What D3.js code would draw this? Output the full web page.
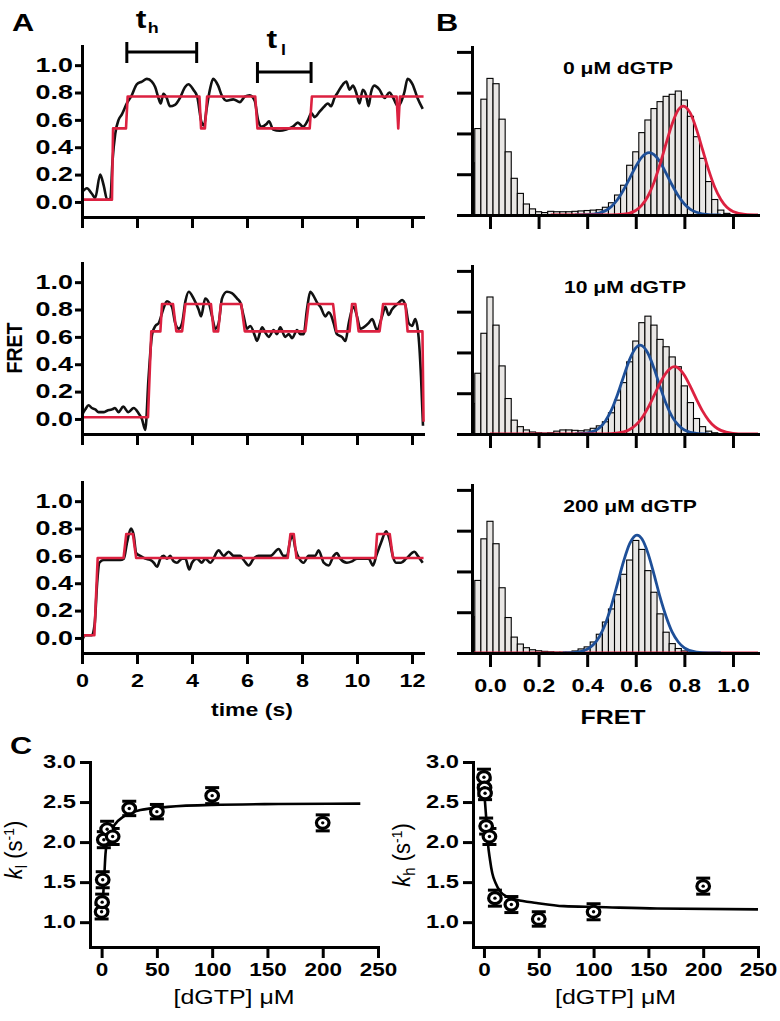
<!DOCTYPE html>
<html>
<head>
<meta charset="utf-8">
<script src="https://cdn.jsdelivr.net/npm/d3@7"></script>
<style>
  body { margin: 0; background: #fff; }
</style>
</head>
<body>
<svg id="fig" width="780" height="1021"></svg>
<script>
// ---------- panel A : FRET traces [time (s), FRET] ----------
var traceTop = [[0,0.07],[0.18,0.1],[0.36,0.06],[0.48,0.03],[0.66,0.2],[0.79,0.12],[0.91,0.02],[1.03,0.02],[1.11,0.3],[1.21,0.5],[1.33,0.6],[1.45,0.64],[1.63,0.72],[1.81,0.78],[1.99,0.86],[2.18,0.88],[2.36,0.9],[2.54,0.88],[2.66,0.84],[2.78,0.76],[2.86,0.72],[2.96,0.79],[3.08,0.76],[3.2,0.7],[3.38,0.71],[3.56,0.76],[3.75,0.84],[3.87,0.86],[4.05,0.82],[4.19,0.77],[4.35,0.58],[4.44,0.56],[4.53,0.68],[4.65,0.82],[4.77,0.9],[4.95,0.85],[5.08,0.78],[5.26,0.74],[5.5,0.75],[5.74,0.73],[5.92,0.77],[6.1,0.78],[6.28,0.74],[6.4,0.6],[6.53,0.55],[6.71,0.57],[6.8,0.59],[6.95,0.53],[7.19,0.52],[7.43,0.53],[7.67,0.55],[7.85,0.58],[8.04,0.55],[8.22,0.6],[8.34,0.65],[8.46,0.62],[8.64,0.66],[8.82,0.7],[8.94,0.72],[9.06,0.7],[9.18,0.76],[9.3,0.8],[9.49,0.86],[9.61,0.88],[9.73,0.82],[9.85,0.85],[9.97,0.8],[10.09,0.72],[10.21,0.82],[10.33,0.78],[10.42,0.7],[10.51,0.8],[10.63,0.85],[10.82,0.82],[11.0,0.76],[11.18,0.8],[11.32,0.76],[11.48,0.7],[11.6,0.73],[11.72,0.8],[11.84,0.9],[12.02,0.86],[12.2,0.76],[12.39,0.68]];
var fitTop = [[0,0.017],[1.09,0.017],[1.13,0.538],[1.6,0.538],[1.66,0.771],[4.27,0.771],[4.33,0.538],[4.47,0.538],[4.55,0.771],[6.3,0.771],[6.38,0.538],[8.28,0.538],[8.36,0.771],[11.44,0.771],[11.5,0.538],[11.56,0.771],[12.42,0.771]];

var traceMid = [[0,0.03],[0.12,0.07],[0.24,0.1],[0.36,0.08],[0.48,0.07],[0.6,0.05],[0.79,0.05],[0.91,0.06],[1.09,0.07],[1.2,0.08],[1.33,0.05],[1.5,0.09],[1.68,0.05],[1.88,0.08],[2.06,0.04],[2.18,0.0],[2.3,-0.08],[2.42,0.3],[2.55,0.62],[2.67,0.68],[2.79,0.7],[2.95,0.8],[3.09,0.86],[3.27,0.82],[3.39,0.7],[3.52,0.66],[3.64,0.7],[3.76,0.86],[3.88,0.93],[4.06,0.88],[4.24,0.8],[4.33,0.75],[4.48,0.88],[4.61,0.85],[4.73,0.75],[4.85,0.66],[4.97,0.7],[5.09,0.88],[5.27,0.93],[5.45,0.92],[5.64,0.88],[5.76,0.85],[5.88,0.75],[6.0,0.66],[6.12,0.68],[6.3,0.6],[6.36,0.57],[6.55,0.67],[6.67,0.63],[6.79,0.6],[6.97,0.65],[7.09,0.62],[7.21,0.67],[7.39,0.6],[7.52,0.62],[7.64,0.59],[7.82,0.65],[7.94,0.62],[8.06,0.62],[8.18,0.8],[8.3,0.93],[8.42,0.9],[8.55,0.85],[8.67,0.82],[8.85,0.75],[8.97,0.78],[9.09,0.74],[9.15,0.7],[9.27,0.62],[9.45,0.6],[9.58,0.57],[9.7,0.7],[9.88,0.82],[10.0,0.75],[10.12,0.66],[10.24,0.67],[10.42,0.7],[10.55,0.73],[10.73,0.65],[10.91,0.75],[11.03,0.82],[11.15,0.76],[11.27,0.8],[11.52,0.85],[11.64,0.87],[11.76,0.83],[11.88,0.7],[12.0,0.68],[12.12,0.73],[12.24,0.6],[12.33,0.3],[12.4,-0.05]];
var fitMid = [[0,0.012],[2.4,0.012],[2.52,0.64],[2.85,0.64],[2.91,0.84],[3.31,0.84],[3.43,0.64],[3.64,0.64],[3.76,0.84],[4.69,0.84],[4.79,0.64],[4.95,0.64],[5.05,0.84],[5.79,0.84],[5.92,0.64],[8.12,0.64],[8.24,0.84],[9.13,0.84],[9.25,0.64],[9.73,0.64],[9.82,0.84],[9.94,0.84],[10.06,0.64],[10.82,0.64],[10.95,0.84],[11.76,0.84],[11.84,0.64],[12.38,0.64],[12.42,-0.02]];

var traceBot = [[0,-0.02],[0.12,0.02],[0.36,0.02],[0.46,0.1],[0.55,0.4],[0.63,0.55],[0.79,0.57],[1.15,0.57],[1.39,0.57],[1.52,0.58],[1.64,0.7],[1.78,0.8],[1.88,0.75],[1.97,0.62],[2.12,0.6],[2.3,0.58],[2.48,0.57],[2.61,0.55],[2.73,0.52],[2.85,0.58],[2.97,0.6],[3.09,0.58],[3.21,0.6],[3.33,0.56],[3.45,0.55],[3.64,0.58],[3.76,0.58],[3.9,0.5],[4.0,0.55],[4.18,0.58],[4.36,0.55],[4.48,0.58],[4.67,0.55],[4.97,0.64],[5.15,0.6],[5.33,0.63],[5.52,0.6],[5.76,0.6],[5.88,0.57],[6.06,0.53],[6.24,0.58],[6.42,0.6],[6.67,0.6],[6.85,0.6],[7.15,0.65],[7.33,0.6],[7.45,0.6],[7.58,0.72],[7.66,0.75],[7.76,0.65],[7.9,0.58],[8.06,0.55],[8.24,0.6],[8.48,0.6],[8.6,0.64],[8.79,0.55],[8.97,0.53],[9.15,0.6],[9.27,0.62],[9.39,0.58],[9.63,0.55],[9.82,0.56],[10.0,0.58],[10.24,0.58],[10.42,0.58],[10.58,0.53],[10.7,0.6],[10.88,0.7],[11.06,0.78],[11.18,0.72],[11.3,0.6],[11.42,0.55],[11.6,0.55],[11.79,0.58],[12.09,0.63],[12.21,0.6],[12.39,0.55]];
var fitBot = [[0,0.0],[0.1,0.02],[0.45,0.02],[0.57,0.584],[1.51,0.584],[1.61,0.76],[1.85,0.76],[1.97,0.584],[7.48,0.584],[7.58,0.76],[7.7,0.76],[7.8,0.584],[10.67,0.584],[10.73,0.76],[11.19,0.76],[11.31,0.584],[12.42,0.584]];

// dwell-time brackets drawn above the top trace
var dwellMarks = [{sub: "h", t0: 1.63, t1: 4.17}, {sub: "l", t0: 6.38, t1: 8.33}];

// ---------- panel B : FRET histograms ----------
var fretBins = [-0.075,-0.05,-0.025,0,0.025,0.05,0.075,0.1,0.125,0.15,0.175,0.2,0.225,0.25,0.275,0.3,0.325,0.35,0.375,0.4,0.425,0.45,0.475,0.5,0.525,0.55,0.575,0.6,0.625,0.65,0.675,0.7,0.725,0.75,0.775,0.8,0.825,0.85,0.875,0.9,0.925,0.95,0.975,1.0];
var histTop = [128,212,284,335,322,235,155,90,53,27,15,8,6,9,8,8,8,9,10,11,12,13,19,30,49,73,122,155,202,233,261,278,291,296,304,282,242,192,139,82,38,12,4,1];
var histMid = [75,149,247,336,267,167,87,34,18,10,5,3,2,3,7,10,10,9,8,10,14,20,30,52,83,126,177,228,273,289,267,232,214,189,165,118,77,38,18,7,3,1,0,0];
var histBot = [89,178,280,323,268,160,87,39,22,13,8,5.5,4,3,2,2,2,5,10,15,27,46,76,108,143,193,228,276,254,202,149,96,51,23,11,5,2,1,0,0,0,0,0,0];

var blueTop = [[0.35,0.1],[0.4,0.7],[0.45,4.8],[0.5,21],[0.525,38],[0.55,62],[0.575,90],[0.6,119],[0.625,142],[0.655,153],[0.675,148],[0.7,130],[0.725,102],[0.75,73],[0.775,47],[0.8,27],[0.825,14],[0.85,6.7],[0.9,1.1],[0.95,0]];
var redTop = [[0.25,0],[0.5,0.2],[0.55,1.8],[0.6,11],[0.625,24],[0.65,46],[0.675,80],[0.7,125],[0.725,176],[0.75,224],[0.775,258],[0.796,267],[0.825,249],[0.85,210],[0.875,160],[0.9,110],[0.925,68],[0.95,38],[0.975,19],[1.0,8.7],[1.05,1.3],[1.103,0]];
var blueMid = [[0.35,0],[0.4,2.5],[0.45,15],[0.475,32],[0.5,59],[0.525,97],[0.55,141],[0.575,183],[0.6,211],[0.618,218],[0.65,198],[0.675,161],[0.7,116],[0.725,74],[0.75,42],[0.775,22],[0.8,9.8],[0.85,1.4],[0.9,0]];
var redMid = [[0,0],[0.45,0],[0.5,0.8],[0.55,5],[0.575,11],[0.6,22],[0.625,39],[0.65,64],[0.675,94],[0.7,125],[0.725,150],[0.759,165],[0.775,162],[0.8,144],[0.825,116],[0.85,85],[0.875,56],[0.9,33.5],[0.925,18],[0.95,8.9],[1.0,1.6],[1.05,0.2],[1.103,0]];
var blueBot = [[0.3,0.1],[0.35,1.4],[0.4,9.2],[0.425,20],[0.45,40],[0.475,72],[0.5,117],[0.525,171],[0.55,225],[0.575,268],[0.605,289],[0.625,280],[0.65,245],[0.675,193],[0.7,137],[0.725,89],[0.75,51],[0.775,27],[0.8,12.7],[0.85,2.1],[0.9,0.2],[0.95,0]];
var redBot = [[-0.074,0],[1.103,0]];
var histTitles = ["0 \u03bcM dGTP", "10 \u03bcM dGTP", "200 \u03bcM dGTP"];

// ---------- panel C : rates vs [dGTP] ----------
var dGTP = [0, 0.5, 1, 2, 5, 10, 25, 50, 100, 200];
var kLow = [1.13, 1.25, 1.53, 2.03, 2.16, 2.07, 2.42, 2.38, 2.58, 2.24];
var kLowErr = [0.09, 0.1, 0.1, 0.1, 0.1, 0.1, 0.09, 0.09, 0.1, 0.1];
var kHigh = [2.81, 2.68, 2.61, 2.2, 2.07, 1.3, 1.22, 1.04, 1.13, 1.45];
var kHighErr = [0.1, 0.1, 0.08, 0.1, 0.1, 0.1, 0.1, 0.09, 0.1, 0.1];
var fitLowX = [0, 1.5, 2.5, 3.5, 5, 8, 12, 20, 35, 60, 100, 160, 234];
var fitLowY = [1.12, 1.35, 1.6, 1.85, 2.0, 2.12, 2.22, 2.32, 2.4, 2.44, 2.465, 2.475, 2.48];
var fitHighX = [0, 1, 2.4, 3.6, 5.5, 7.6, 10.6, 15, 21, 30, 48, 73, 103, 158, 250];
var fitHighY = [2.65, 2.49, 2.24, 1.99, 1.78, 1.61, 1.49, 1.38, 1.32, 1.28, 1.24, 1.2, 1.19, 1.17, 1.16];

var RED = "#dc2140", BLUE = "#1e4f98";
var FONT = '"Liberation Sans", Arial, sans-serif';
var SX = 1.28; // the original figure is stretched sideways

var svg = d3.select("#fig");
svg.append("rect").attr("width", 780).attr("height", 1021).attr("fill", "#fff");

function txt(parent, x, y, s, size, o) {
    o = o || {};
    var sx = o.sx || SX;
    var t = parent.append("text")
        .attr("transform", "translate(" + x + "," + y + ") scale(" + sx + ",1)" + (o.rotate ? " rotate(" + o.rotate + ")" : ""))
        .attr("font-family", FONT)
        .attr("font-size", size)
        .attr("font-weight", o.weight || "bold")
        .attr("text-anchor", o.anchor || "start")
        .attr("fill", "#000");
    if (s) t.text(s);
    return t;
}

function styleAxis(g, size, sx) {
    sx = sx || SX;
    g.attr("font-family", FONT).attr("font-size", size).attr("font-weight", "bold");
    g.select(".domain").attr("stroke-width", 3).attr("stroke-linecap", "square");
    g.selectAll(".tick line").attr("stroke-width", 3);
    g.selectAll(".tick text").attr("fill", "#000").each(function () {
        var t = d3.select(this);
        var x = +t.attr("x") || 0, y = +t.attr("y") || 0;
        t.attr("x", null).attr("y", null)
         .attr("transform", "translate(" + x + "," + y + ") scale(" + sx + ",1)");
    });
}

// ================= A =================
var tX = d3.scaleLinear().domain([0, 12.4]).range([82, 423]);
var panelsA = [
    {trace: traceTop, fit: fitTop, bottom: 217, labels: false},
    {trace: traceMid, fit: fitMid, bottom: 434, labels: false},
    {trace: traceBot, fit: fitBot, bottom: 653, labels: true}
];

panelsA.forEach(function (p) {
    var y = d3.scaleLinear().domain([-0.11, 1.14]).range([p.bottom, p.bottom - 171]);
    var smooth = d3.line().x(function (d) { return tX(d[0]); }).y(function (d) { return y(d[1]); }).curve(d3.curveMonotoneX);
    var step = d3.line().x(function (d) { return tX(d[0]); }).y(function (d) { return y(d[1]); });

    svg.append("path").datum(p.trace).attr("d", smooth)
        .attr("fill", "none").attr("stroke", "#111").attr("stroke-width", 2.6).attr("stroke-linejoin", "round");
    svg.append("path").datum(p.fit).attr("d", step)
        .attr("fill", "none").attr("stroke", RED).attr("stroke-width", 2.6).attr("stroke-linejoin", "round");

    var ya = svg.append("g").attr("transform", "translate(82,0)")
        .call(d3.axisLeft(y).tickValues([0, 0.2, 0.4, 0.6, 0.8, 1.0]).tickFormat(d3.format(".1f"))
            .tickSize(7).tickSizeOuter(0).tickPadding(2));
    styleAxis(ya, 19.5, 1.38);

    var xa = svg.append("g").attr("transform", "translate(0," + p.bottom + ")")
        .call(d3.axisBottom(tX).tickValues([0, 2, 4, 6, 8, 10, 12])
            .tickFormat(p.labels ? d3.format("d") : function () { return ""; })
            .tickSize(11).tickSizeOuter(0).tickPadding(10));
    styleAxis(xa, 18, 1.3);
});

// dwell brackets
dwellMarks.forEach(function (m, i) {
    var yy = i === 0 ? 52 : 72;
    var g = svg.append("g").attr("stroke", "#000").attr("stroke-width", 3);
    g.append("line").attr("x1", tX(m.t0)).attr("x2", tX(m.t1)).attr("y1", yy).attr("y2", yy);
    g.append("line").attr("x1", tX(m.t0)).attr("x2", tX(m.t0)).attr("y1", yy - 10).attr("y2", yy + 11);
    g.append("line").attr("x1", tX(m.t1)).attr("x2", tX(m.t1)).attr("y1", yy - 10).attr("y2", yy + 11);
    var lab = txt(svg, tX(m.t0) + 9, yy - 24, null, 25);
    lab.append("tspan").text("t");
    lab.append("tspan").attr("font-size", 14).attr("dx", i === 0 ? 1 : 3).attr("dy", i === 0 ? 5 : 7).text(m.sub);
});

txt(svg, 22, 348, "FRET", 19.5, {anchor: "middle", rotate: -90, sx: 1.1});
txt(svg, 252, 716, "time (s)", 18, {anchor: "middle"});

// ================= B =================
var xF = d3.scaleLinear().domain([-0.074, 1.103]).range([472, 758]);
var BIN = 0.025;
var panelsB = [
    {hist: histTop, blue: blueTop, red: redTop, bottom: 215, title: histTitles[0], tx: 618, ty: 74, labels: false, redFirst: false},
    {hist: histMid, blue: blueMid, red: redMid, bottom: 434, title: histTitles[1], tx: 625, ty: 293, labels: false, redFirst: false},
    {hist: histBot, blue: blueBot, red: redBot, bottom: 653, title: histTitles[2], tx: 630, ty: 512, labels: true, redFirst: true}
];

panelsB.forEach(function (p) {
    var y = d3.scaleLinear().domain([0, 412]).range([p.bottom, p.bottom - 168]);
    var bins = fretBins.map(function (c, i) { return {c: c, v: p.hist[i]}; }).filter(function (d) { return d.v > 0; });

    svg.append("g").selectAll("rect").data(bins).enter().append("rect")
        .attr("x", function (d) { return xF(Math.max(d.c - BIN / 2, xF.domain()[0])); })
        .attr("width", function (d) { return xF(d.c + BIN / 2) - xF(Math.max(d.c - BIN / 2, xF.domain()[0])); })
        .attr("y", function (d) { return y(d.v); })
        .attr("height", function (d) { return p.bottom - y(d.v); })
        .attr("fill", "#e9e7e5").attr("stroke", "#000").attr("stroke-width", 1.1);

    var curve = d3.line().x(function (d) { return xF(d[0]); }).y(function (d) { return y(d[1]); }).curve(d3.curveMonotoneX);
    var order = p.redFirst ? [[p.red, RED], [p.blue, BLUE]] : [[p.blue, BLUE], [p.red, RED]];
    order.forEach(function (o) {
        svg.append("path").datum(o[0]).attr("d", curve)
            .attr("fill", "none").attr("stroke", o[1]).attr("stroke-width", 2.8).attr("stroke-linejoin", "round");
    });

    var ya = svg.append("g").attr("transform", "translate(472,0)")
        .call(d3.axisLeft(y).tickValues([0, 100, 200, 300, 400]).tickFormat(function () { return ""; })
            .tickSize(15).tickSizeOuter(0));
    styleAxis(ya, 17.5);

    var xa = svg.append("g").attr("transform", "translate(0," + p.bottom + ")")
        .call(d3.axisBottom(xF).tickValues([0, 0.2, 0.4, 0.6, 0.8, 1.0])
            .tickFormat(p.labels ? d3.format(".1f") : function () { return ""; })
            .tickSize(14).tickSizeOuter(0).tickPadding(12));
    styleAxis(xa, 18, 1.3);

    txt(svg, p.tx, p.ty, p.title, 16.5, {anchor: "middle"});
});

txt(svg, 613, 724, "FRET", 19.5, {anchor: "middle"});

// ================= C =================
var yC = d3.scaleLinear().domain([0.69, 3.0]).range([947, 762]);
var panelsC = [
    {x: d3.scaleLinear().domain([-10.5, 250]).range([90, 378]), k: kLow, err: kLowErr, fx: fitLowX, fy: fitLowY, sub: "l", lx: 22, ly: 850},
    {x: d3.scaleLinear().domain([-10, 250]).range([473, 758]), k: kHigh, err: kHighErr, fx: fitHighX, fy: fitHighY, sub: "h", lx: 410, ly: 855}
];

panelsC.forEach(function (p) {
    var x = p.x;
    var x0 = x.range()[0];
    var pts = dGTP.map(function (c, i) { return {c: c, k: p.k[i], e: p.err[i]}; });

    var fit = d3.line().x(function (d) { return x(d[0]); }).y(function (d) { return yC(d[1]); }).curve(d3.curveMonotoneX);
    svg.append("path").datum(p.fx.map(function (v, i) { return [v, p.fy[i]]; })).attr("d", fit)
        .attr("fill", "none").attr("stroke", "#000").attr("stroke-width", 2.6);

    var eb = svg.append("g").attr("stroke", "#000").attr("stroke-width", 3);
    pts.forEach(function (d) {
        var cx = x(d.c);
        eb.append("line").attr("x1", cx).attr("x2", cx).attr("y1", yC(d.k + d.e)).attr("y2", yC(d.k - d.e));
        eb.append("line").attr("x1", cx - 7).attr("x2", cx + 7).attr("y1", yC(d.k + d.e)).attr("y2", yC(d.k + d.e));
        eb.append("line").attr("x1", cx - 7).attr("x2", cx + 7).attr("y1", yC(d.k - d.e)).attr("y2", yC(d.k - d.e));
    });

    var mk = svg.append("g").selectAll("g").data(pts).enter().append("g")
        .attr("transform", function (d) { return "translate(" + x(d.c) + "," + yC(d.k) + ")"; });
    mk.append("ellipse").attr("rx", 6.3).attr("ry", 5.5).attr("fill", "#fff").attr("stroke", "#000").attr("stroke-width", 3.2);
    mk.append("circle").attr("r", 1.7).attr("fill", "#000");

    var ya = svg.append("g").attr("transform", "translate(" + x0 + ",0)")
        .call(d3.axisLeft(yC).tickValues([1.0, 1.5, 2.0, 2.5, 3.0]).tickFormat(d3.format(".1f"))
            .tickSize(10).tickSizeOuter(0).tickPadding(4));
    styleAxis(ya, 18, 1.32);

    var xa = svg.append("g").attr("transform", "translate(0,947)")
        .call(d3.axisBottom(x).tickValues([0, 50, 100, 150, 200, 250]).tickFormat(d3.format("d"))
            .tickSize(11).tickSizeOuter(0).tickPadding(5));
    styleAxis(xa, 18, 1.25);

    txt(svg, (x.range()[0] + x.range()[1]) / 2, 1004, "[dGTP] \u03bcM", 19.5, {anchor: "middle", weight: "normal"});

    var yl = txt(svg, p.lx, p.ly, null, 22, {anchor: "middle", rotate: -90, weight: "normal", sx: 1.05});
    yl.append("tspan").attr("font-style", "italic").text("k");
    yl.append("tspan").attr("font-size", 15).attr("dy", 5).text(p.sub);
    yl.append("tspan").attr("dy", -5).text(" (s");
    yl.append("tspan").attr("font-size", 14).attr("dy", -8).text("-1");
    yl.append("tspan").attr("dy", 8).text(")");
});

// panel letters
txt(svg, 12, 31, "A", 24);
txt(svg, 436, 31, "B", 24);
txt(svg, 10, 754, "C", 24);
</script>
</body>
</html>
